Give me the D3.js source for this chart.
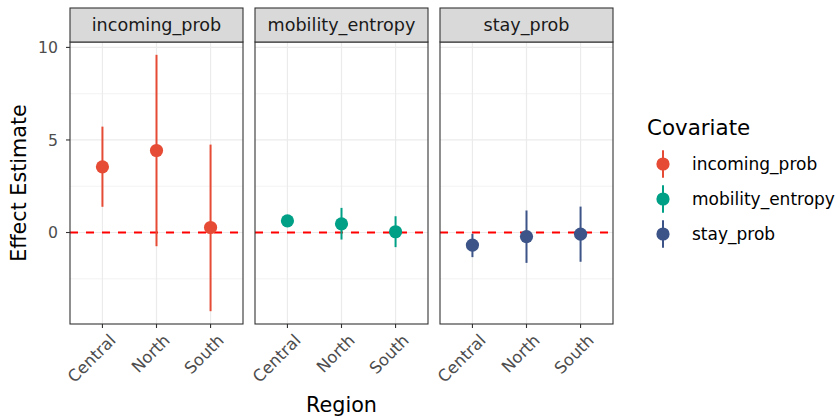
<!DOCTYPE html>
<html>
<head>
<meta charset="utf-8">
<script src="https://cdn.jsdelivr.net/npm/d3@7"></script>
<style>
  html, body { margin: 0; padding: 0; background: #fff; }
  svg { display: block; font-family: "DejaVu Sans", sans-serif; }
</style>
</head>
<body>
<svg id="chart" width="840" height="417"></svg>
<script>
// Facet panels and x categories
const covariates = ["incoming_prob", "mobility_entropy", "stay_prob"];
const regions = ["Central", "North", "South"];
const colors = ["#E64B35", "#00A087", "#3C5488"];

// Estimates with lower/upper interval bounds, one row per covariate (Central, North, South)
const estimates = [
  [3.55, 4.43, 0.27],
  [0.63, 0.47, 0.04],
  [-0.68, -0.22, -0.09]
];
const lower = [
  [1.39, -0.74, -4.25],
  [0.38, -0.38, -0.79],
  [-1.33, -1.64, -1.58]
];
const upper = [
  [5.72, 9.60, 4.75],
  [0.88, 1.33, 0.88],
  [-0.07, 1.19, 1.40]
];
const yTicks = [0, 5, 10];
const yMinor = [-2.5, 2.5, 7.5];

const svg = d3.select("#chart");

const panelW = 173, gap = 12, left0 = 70;
const panelTop = 42, panelBottom = 324, stripH = 34;

const lo = d3.min(lower.flat()), hi = d3.max(upper.flat());
const pad = (hi - lo) * 0.05;
const y = d3.scaleLinear().domain([lo - pad, hi + pad]).range([panelBottom, panelTop]);

const grey20 = "#333333", grey30 = "#4D4D4D", grid = "#EBEBEB";

covariates.forEach((cov, i) => {
  const x0 = left0 + i * (panelW + gap);
  const x = d3.scalePoint().domain(regions).range([x0, x0 + panelW]).padding(0.6);
  const g = svg.append("g");

  // minor and major grid
  g.selectAll(".minor").data(yMinor).join("line")
    .attr("x1", x0).attr("x2", x0 + panelW)
    .attr("y1", d => y(d)).attr("y2", d => y(d))
    .attr("stroke", grid).attr("stroke-width", 0.6);
  g.selectAll(".major").data(yTicks).join("line")
    .attr("x1", x0).attr("x2", x0 + panelW)
    .attr("y1", d => y(d)).attr("y2", d => y(d))
    .attr("stroke", grid).attr("stroke-width", 1.2);
  g.selectAll(".vgrid").data(regions).join("line")
    .attr("x1", d => x(d)).attr("x2", d => x(d))
    .attr("y1", panelTop).attr("y2", panelBottom)
    .attr("stroke", grid).attr("stroke-width", 1.2);

  // zero reference line
  g.append("line")
    .attr("x1", x0).attr("x2", x0 + panelW)
    .attr("y1", y(0)).attr("y2", y(0))
    .attr("stroke", "#FF0000").attr("stroke-width", 2)
    .attr("stroke-dasharray", "8,8");

  // intervals and points
  regions.forEach((r, j) => {
    g.append("line")
      .attr("x1", x(r)).attr("x2", x(r))
      .attr("y1", y(lower[i][j])).attr("y2", y(upper[i][j]))
      .attr("stroke", colors[i]).attr("stroke-width", 2);
    g.append("circle")
      .attr("cx", x(r)).attr("cy", y(estimates[i][j]))
      .attr("r", 6.6).attr("fill", colors[i]);
  });

  // panel border
  g.append("rect")
    .attr("x", x0).attr("y", panelTop).attr("width", panelW).attr("height", panelBottom - panelTop)
    .attr("fill", "none").attr("stroke", grey20).attr("stroke-width", 1.1);

  // strip
  g.append("rect")
    .attr("x", x0).attr("y", panelTop - stripH).attr("width", panelW).attr("height", stripH)
    .attr("fill", "#D9D9D9").attr("stroke", grey20).attr("stroke-width", 1.1);
  g.append("text")
    .attr("x", x0 + panelW / 2).attr("y", panelTop - stripH / 2 + 6)
    .attr("text-anchor", "middle").attr("font-size", 17.6).attr("fill", "#1A1A1A")
    .text(cov);

  // x axis ticks and rotated labels
  const xa = g.append("g");
  regions.forEach(r => {
    xa.append("line")
      .attr("x1", x(r)).attr("x2", x(r)).attr("y1", panelBottom).attr("y2", panelBottom + 4)
      .attr("stroke", grey20).attr("stroke-width", 1.1);
    xa.append("text")
      .attr("transform", `translate(${x(r) + 6},${panelBottom + 9}) rotate(-45)`)
      .attr("text-anchor", "end").attr("dy", "0.72em")
      .attr("font-size", 16.4).attr("fill", grey30)
      .text(r);
  });
});

// y axis on the first panel
const ya = svg.append("g");
yTicks.forEach(t => {
  ya.append("line")
    .attr("x1", left0 - 4).attr("x2", left0).attr("y1", y(t)).attr("y2", y(t))
    .attr("stroke", grey20).attr("stroke-width", 1.1);
  ya.append("text")
    .attr("x", left0 - 12).attr("y", y(t)).attr("dy", "0.36em")
    .attr("text-anchor", "end").attr("font-size", 15.7).attr("fill", grey30)
    .text(t);
});

// axis titles
svg.append("text")
  .attr("transform", `translate(26,${(panelTop + panelBottom) / 2}) rotate(-90)`)
  .attr("text-anchor", "middle").attr("font-size", 20.7).attr("fill", "#000")
  .text("Effect Estimate");
svg.append("text")
  .attr("x", left0 + (3 * panelW + 2 * gap) / 2).attr("y", 411.5)
  .attr("text-anchor", "middle").attr("font-size", 20.7).attr("fill", "#000")
  .text("Region");

// legend
const lg = svg.append("g").attr("transform", "translate(647,0)");
lg.append("text").attr("x", 0).attr("y", 134.5).attr("font-size", 21.4).attr("fill", "#000")
  .text("Covariate");
covariates.forEach((cov, i) => {
  const cy = 164 + i * 35;
  lg.append("line").attr("x1", 16).attr("x2", 16).attr("y1", cy - 13.7).attr("y2", cy + 13.7)
    .attr("stroke", colors[i]).attr("stroke-width", 2);
  lg.append("circle").attr("cx", 16).attr("cy", cy).attr("r", 6.6).attr("fill", colors[i]);
  lg.append("text").attr("x", 45).attr("y", cy).attr("dy", "0.35em")
    .attr("font-size", 17).attr("fill", "#000").text(cov);
});
</script>
</body>
</html>
